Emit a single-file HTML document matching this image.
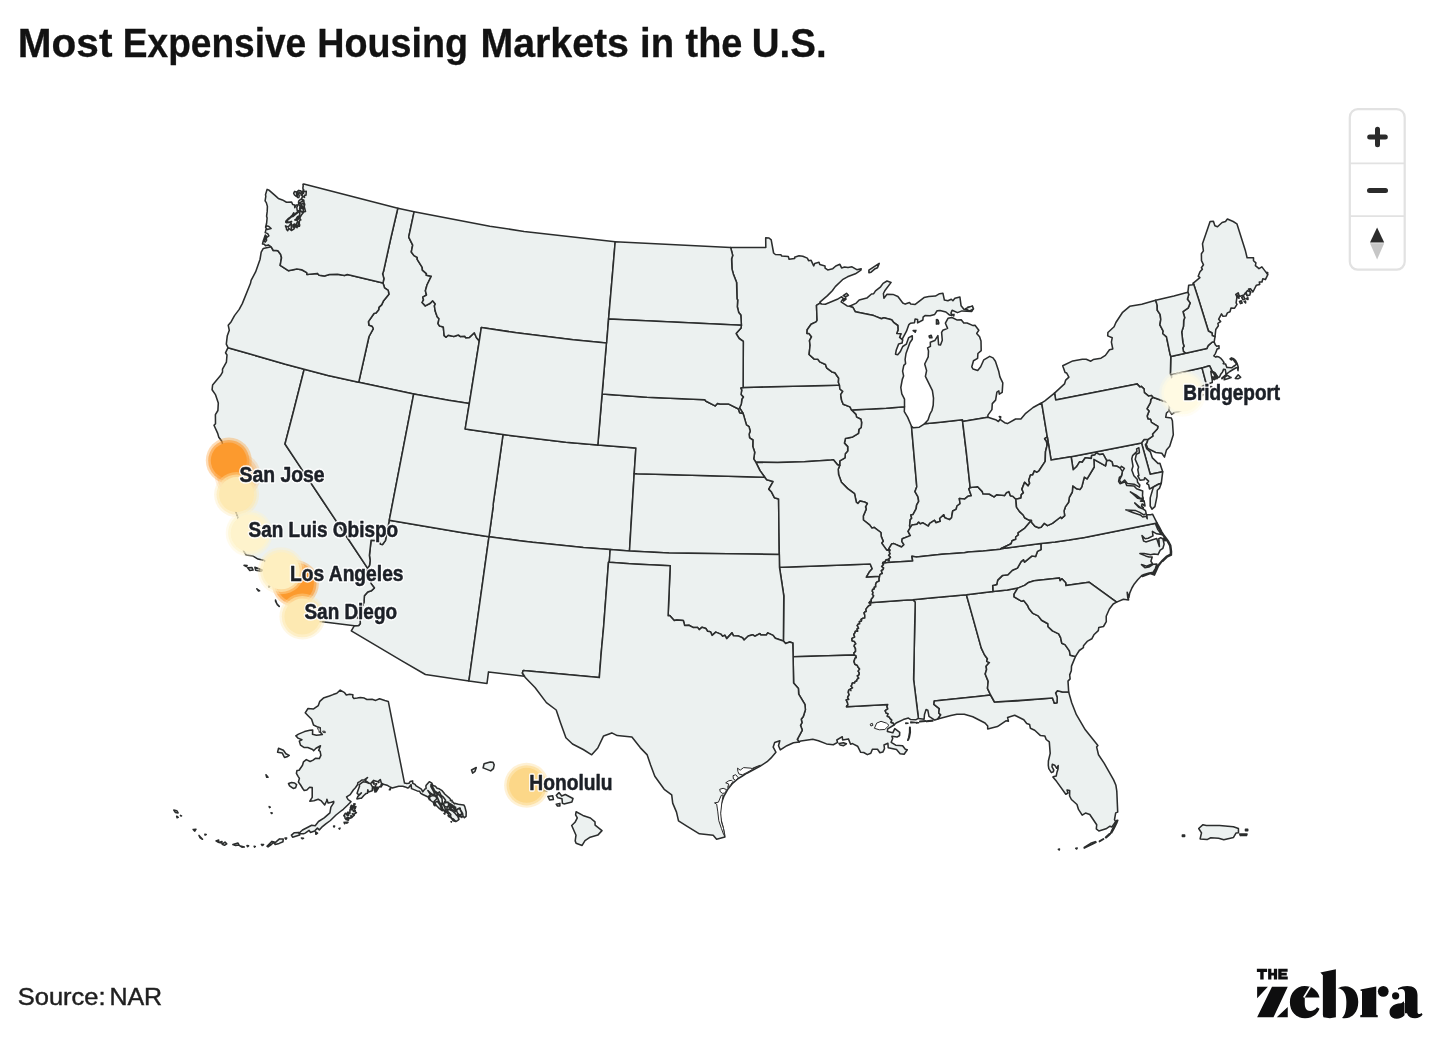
<!DOCTYPE html>
<html><head><meta charset="utf-8"><title>Most Expensive Housing Markets in the U.S.</title>
<style>
html,body{margin:0;padding:0;background:#fff;}
body{will-change:transform;width:1440px;height:1043px;position:relative;overflow:hidden;font-family:"Liberation Sans",sans-serif;color:#111;}
#map{position:absolute;left:0;top:0;width:1440px;height:1043px;filter:blur(0.45px);}
#map .st path{fill:#ecf1f0;stroke:#2b2d2d;stroke-width:1.55;stroke-linejoin:round;}
#map .wt path{fill:#fff;stroke:#2a2a2a;stroke-width:1;stroke-linejoin:round;}
#map .lb text{font-family:"Liberation Sans",sans-serif;font-weight:700;font-size:22.2px;fill:#1c2027;stroke:#1c2027;stroke-width:0.55px;stroke-linejoin:round;}
#map .lb text.h{fill:#fff;stroke:#fff;stroke-width:3.4px;stroke-opacity:.9;}
</style></head><body>
<svg id="map" viewBox="0 0 1440 1043">
<g class="st">
<path d="M930.2,598.0L966.4,594.8L972.5,616.4L981.3,648.1L984.6,655.0L987.4,658.8L986.7,661.4L989.4,662.6L986.1,666.3L986.6,669.5L985.2,674.0L988.2,681.4L987.5,688.3L990.6,695.0L980.0,696.3L934.3,700.9L933.9,704.3L939.3,708.7L938.8,713.0L940.7,714.9L937.8,719.0L934.8,720.1L929.0,716.4L927.8,710.2L926.1,709.6L924.5,714.5L924.1,719.2L918.4,718.4L913.6,679.5L914.6,630.5L915.2,602.2L912.8,599.7Z"/>
<path d="M489.0,536.7L468.9,681.0L425.4,674.5L401.9,660.9L351.3,630.9L354.4,625.7L358.7,625.5L360.3,623.5L360.1,618.6L357.3,617.9L357.8,608.3L362.7,605.5L364.0,601.9L364.4,595.8L367.7,591.9L371.3,590.8L374.4,588.0L371.1,583.6L369.6,576.4L367.0,571.6L367.7,568.4L369.6,565.2L370.1,560.4L369.4,555.3L371.1,540.2L378.7,540.7L380.5,544.2L382.5,544.5L385.4,540.6L389.3,520.2L459.9,532.3Z"/>
<path d="M782.4,567.3L870.2,564.0L872.2,568.8L869.3,572.1L866.4,577.1L879.6,576.3L879.1,578.7L879.2,581.1L877.6,581.7L876.3,582.7L875.6,584.7L875.8,586.7L874.3,587.2L874.3,589.1L872.6,589.6L872.3,591.2L873.1,592.6L872.4,594.3L873.7,595.7L873.0,597.3L871.3,599.3L871.2,602.0L869.9,601.5L869.2,602.8L870.7,603.4L870.6,605.0L868.8,605.7L867.5,607.1L866.0,609.1L866.2,611.6L865.0,611.9L864.1,612.8L864.8,615.3L864.8,617.9L862.8,618.3L861.1,619.5L861.6,620.3L861.3,621.2L859.4,621.4L859.7,623.8L858.0,624.3L857.2,625.6L858.1,626.9L858.6,628.4L857.1,629.0L857.7,631.3L855.4,631.2L855.0,632.7L853.8,634.5L854.7,637.1L852.0,638.4L852.1,640.7L854.5,641.6L855.9,643.9L854.6,644.6L854.2,646.1L855.5,648.6L855.6,651.4L854.0,652.8L854.2,655.0L802.3,656.5L793.1,656.7L792.8,643.1L789.7,642.0L785.6,643.4L783.4,641.0L783.8,595.8L779.5,567.3Z"/>
<path d="M245.7,352.8L261.2,357.2L285.4,364.3L304.2,369.3L293.2,412.5L285.0,444.0L304.0,472.6L322.4,500.3L337.3,522.6L348.2,539.0L367.7,568.4L367.0,571.6L369.6,576.4L371.1,583.6L374.4,588.0L371.3,590.8L367.7,591.9L364.4,595.8L364.0,601.9L362.7,605.5L357.8,608.3L357.3,617.9L360.1,618.6L360.3,623.5L358.7,625.5L354.4,625.7L326.2,622.3L303.2,619.5L301.4,615.6L302.5,610.4L302.3,603.9L300.4,598.8L295.3,591.3L288.5,583.7L286.5,584.9L283.6,583.2L284.6,580.8L282.3,574.9L277.2,574.8L269.7,569.0L269.2,565.7L264.4,560.6L258.0,559.1L253.1,556.1L246.2,555.0L243.5,550.8L246.1,544.1L245.2,542.6L247.3,537.9L243.0,532.9L244.1,527.8L242.2,527.0L240.1,521.7L238.1,520.2L237.9,517.2L233.1,504.9L230.4,500.9L231.9,492.7L233.2,493.8L235.9,489.4L234.4,484.3L230.8,483.9L227.5,478.7L226.8,475.1L227.9,472.2L226.8,467.6L228.7,461.1L232.3,462.1L233.4,452.6L231.6,453.1L230.0,457.5L225.9,457.4L222.4,452.7L223.4,446.7L221.8,441.2L218.8,437.2L217.7,433.4L214.0,425.3L215.5,423.7L215.4,414.7L217.9,410.5L218.3,403.1L215.6,394.9L212.1,389.7L212.6,385.0L220.5,375.6L222.5,372.2L222.5,369.1L226.4,362.2L227.0,355.0L225.5,352.8L228.0,347.7Z"/>
<path d="M524.4,437.3L565.9,442.2L597.8,445.1L635.9,447.9L634.2,473.6L629.5,551.0L610.2,549.5L583.3,547.5L532.5,542.3L521.4,540.9L489.0,536.7L493.1,506.9L493.2,504.0L496.3,482.4L503.0,434.6Z"/>
<path d="M1179.0,373.1L1202.0,367.7L1202.1,368.1L1206.0,382.8L1205.5,385.4L1203.7,385.4L1196.2,389.4L1186.4,391.3L1183.1,395.7L1178.9,397.9L1174.3,402.1L1172.3,399.5L1176.2,395.7L1174.4,393.9L1171.1,374.7Z"/>
<path d="M1148.1,439.3L1147.0,442.7L1145.4,444.8L1146.7,448.7L1150.3,451.8L1152.4,457.9L1158.0,463.4L1159.9,463.3L1162.7,471.8L1150.2,474.3L1141.5,442.9L1144.1,439.5Z"/>
<path d="M980.0,696.3L990.6,695.0L994.5,702.0L1016.6,701.0L1052.5,698.0L1054.4,703.3L1057.0,702.8L1057.2,697.5L1055.6,692.9L1057.4,690.7L1062.6,692.0L1068.7,692.1L1071.7,702.8L1076.4,714.7L1085.3,729.8L1097.9,745.4L1096.6,746.9L1098.5,754.8L1104.1,763.1L1113.6,779.9L1115.9,785.3L1116.8,791.1L1117.7,812.1L1115.7,812.9L1114.5,819.7L1115.6,821.6L1111.9,827.0L1110.0,826.2L1106.0,828.8L1098.9,831.0L1096.3,828.8L1096.7,824.8L1089.8,814.5L1085.5,813.1L1082.2,815.2L1078.5,809.4L1077.0,804.5L1071.4,799.5L1069.6,796.0L1069.7,790.5L1067.0,790.0L1068.0,793.0L1065.8,794.2L1056.7,781.6L1052.9,777.0L1054.0,776.4L1056.2,776.0L1056.9,772.6L1058.0,769.1L1058.2,765.5L1056.7,768.3L1054.7,765.2L1052.3,764.3L1052.0,766.9L1053.8,770.0L1053.3,771.8L1051.4,772.6L1048.8,768.6L1048.3,765.4L1048.4,761.0L1050.2,753.4L1049.3,741.9L1046.2,739.5L1044.8,735.9L1040.5,735.6L1034.7,730.2L1030.4,728.3L1029.6,724.5L1026.7,723.5L1023.8,719.7L1014.7,715.2L1007.6,717.4L1008.4,721.2L1005.9,720.8L997.4,726.6L987.7,728.9L987.7,726.0L985.0,723.0L972.8,716.7L964.3,714.3L956.9,714.2L950.9,715.4L937.8,719.0L940.7,714.9L938.8,713.0L939.3,708.7L933.9,704.3L934.3,700.9Z"/>
<path d="M1017.8,588.1L1014.1,594.1L1014.1,596.8L1021.8,601.3L1023.8,600.6L1027.8,605.8L1028.9,608.6L1032.9,613.4L1038.2,615.9L1041.6,620.3L1047.9,623.8L1048.1,626.7L1052.5,630.9L1058.7,633.9L1060.7,637.9L1061.8,643.3L1065.0,644.6L1069.4,650.9L1070.2,655.2L1075.4,656.6L1071.5,666.1L1071.3,670.7L1069.7,674.9L1070.1,678.9L1068.0,681.1L1068.7,692.1L1062.6,692.0L1057.4,690.7L1055.6,692.9L1057.2,697.5L1057.0,702.8L1054.4,703.3L1052.5,698.0L1024.4,700.0L994.5,702.0L990.6,695.0L987.5,688.3L988.2,681.4L985.2,674.0L986.6,669.5L986.1,666.3L989.4,662.6L986.7,661.4L987.4,658.8L984.6,655.0L981.3,648.1L972.5,616.4L966.4,594.8L992.9,591.6L1007.3,589.9Z"/>
<path d="M582.1,845.4L576.1,843.2L575.2,840.9L576.0,835.2L571.7,825.5L575.0,822.3L577.3,817.8L575.6,814.9L576.1,811.8L582.9,815.4L590.4,818.0L595.0,821.9L595.1,825.2L602.0,830.6L597.8,835.1L590.2,837.2L585.0,840.6ZM559.0,792.6L561.7,796.0L565.3,794.5L573.0,798.5L571.9,802.1L564.0,803.9L562.4,803.2L562.0,798.8L557.9,797.8L556.3,795.3ZM549.5,788.0L547.2,790.6L541.6,790.6L543.4,787.7ZM526.3,775.6L528.9,781.6L527.6,785.0L522.5,785.6L519.1,778.5L522.1,778.3ZM490.2,761.9L493.0,762.2L494.2,764.9L493.4,768.6L490.7,770.9L483.1,767.9L484.1,763.8ZM471.5,770.0L476.3,767.5L475.0,771.3L472.6,773.1ZM547.9,796.4L552.7,795.8L553.4,799.4L549.6,799.9ZM556.3,804.2L559.9,803.4L559.9,806.0L557.5,806.0Z"/>
<path d="M414.1,211.8L408.7,237.1L412.7,245.1L411.3,252.0L414.0,255.6L417.2,257.4L417.2,259.3L422.2,267.3L422.4,270.1L426.4,273.6L426.3,275.3L431.3,276.2L427.0,285.0L425.4,290.8L426.5,295.0L422.8,297.1L423.5,299.9L422.1,302.5L425.3,305.9L430.3,303.3L432.6,300.8L435.3,303.9L434.4,305.9L435.2,311.0L437.2,316.7L439.0,318.8L438.0,323.6L439.6,326.1L443.3,327.0L444.2,335.6L446.0,337.3L448.2,335.3L453.8,336.5L458.3,335.0L460.5,336.6L464.9,336.2L465.6,337.8L469.4,337.4L474.3,332.8L476.5,337.7L479.3,340.9L469.3,403.6L448.5,400.3L413.7,393.9L358.7,382.3L369.0,336.5L373.2,328.8L372.2,326.5L368.9,325.3L368.4,321.6L374.0,313.5L376.0,313.1L378.7,309.8L378.9,307.4L381.6,304.9L383.6,300.7L388.9,294.2L388.2,290.4L384.5,287.8L383.0,283.0L383.9,278.6L382.6,273.8L383.4,271.8L390.7,238.7L397.8,208.2Z"/>
<path d="M851.5,410.0L886.1,408.2L904.5,406.7L904.3,411.6L907.6,417.1L911.5,426.3L916.8,486.8L915.0,491.6L918.0,496.9L918.7,501.3L916.6,505.2L916.2,508.7L913.1,514.4L910.9,515.1L911.7,518.2L910.3,519.6L909.6,525.8L910.4,527.4L908.1,531.3L910.3,535.6L902.3,538.7L901.8,541.4L903.9,544.7L901.5,547.0L893.9,543.6L891.6,544.1L888.8,548.8L889.9,550.1L886.7,550.1L881.7,543.1L883.2,541.3L881.2,536.4L880.9,532.5L874.1,527.4L872.0,528.1L869.6,524.9L863.4,520.0L863.3,516.0L866.2,509.1L865.5,506.8L867.3,503.5L864.4,501.9L860.0,501.0L857.9,503.5L856.3,502.1L854.5,493.7L847.7,488.6L841.4,482.2L838.6,474.5L838.2,469.3L839.7,465.5L839.8,460.9L845.0,457.8L845.3,453.8L847.7,451.1L847.7,446.6L844.4,443.1L845.4,438.6L852.7,436.9L858.5,433.3L858.9,429.3L861.2,427.5L861.6,422.5L860.9,419.3L856.6,417.1L855.9,414.4Z"/>
<path d="M940.2,422.2L962.4,419.7L962.6,421.4L966.3,451.9L970.2,487.6L968.9,488.9L971.3,495.7L967.9,496.3L964.5,499.1L959.3,498.5L960.1,503.6L957.0,506.0L956.1,509.4L952.7,511.0L951.6,517.7L949.5,519.6L944.8,517.7L943.7,514.8L939.7,518.5L940.3,521.3L936.0,522.7L934.4,520.3L929.7,523.3L928.3,526.1L922.9,522.8L920.4,523.9L918.5,522.2L917.0,524.2L912.1,524.9L910.4,527.4L909.6,525.8L910.3,519.6L911.7,518.2L910.9,515.1L913.1,514.4L916.2,508.7L916.6,505.2L918.7,501.3L918.0,496.9L915.0,491.6L916.8,486.8L911.5,426.3L913.5,427.8L919.3,427.2L924.5,423.8Z"/>
<path d="M836.7,385.3L839.5,385.2L839.9,389.0L842.8,391.4L840.7,394.6L841.6,400.3L843.2,404.3L850.0,406.9L851.5,410.0L855.9,414.4L856.6,417.1L860.9,419.3L861.6,422.5L861.2,427.5L858.9,429.3L858.5,433.3L852.7,436.9L845.4,438.6L844.4,443.1L847.7,446.6L847.7,451.1L845.3,453.8L845.0,457.8L839.8,460.9L839.7,465.5L837.5,464.8L833.4,459.7L831.4,460.0L804.1,461.7L777.7,462.5L755.9,462.3L753.7,458.9L754.7,452.3L752.8,446.5L752.9,440.0L749.6,437.8L749.1,434.2L750.2,431.1L749.0,426.6L746.4,424.9L743.1,413.4L739.6,407.8L741.3,404.0L741.9,398.9L743.4,397.1L741.0,394.5L741.7,390.1L740.7,387.9L743.1,387.4Z"/>
<path d="M637.1,473.8L764.8,477.3L766.8,479.7L773.1,481.6L768.8,489.1L771.3,491.7L774.4,497.7L778.6,498.9L779.3,554.5L668.9,552.9L629.5,551.0L634.2,473.6Z"/>
<path d="M989.1,494.0L994.0,496.9L996.8,494.7L1004.5,495.6L1006.3,492.8L1008.9,491.6L1010.4,495.8L1012.8,496.2L1015.9,499.3L1016.5,507.1L1019.6,511.6L1023.2,515.0L1024.6,517.7L1028.9,520.1L1031.5,520.2L1024.9,528.1L1018.1,532.9L1018.4,534.9L1015.7,537.0L1015.8,539.2L1012.1,540.8L1011.1,543.7L1000.8,548.8L1000.6,549.3L983.3,551.1L968.2,552.1L964.3,552.8L941.9,554.2L916.5,557.1L911.9,556.3L912.7,560.9L887.5,562.6L885.0,563.1L885.2,561.3L885.9,559.7L887.7,559.4L889.0,560.7L888.7,558.9L890.4,557.3L888.6,555.3L889.9,553.7L889.1,551.8L889.9,550.1L888.8,548.8L891.6,544.1L893.9,543.6L901.5,547.0L903.9,544.7L901.8,541.4L902.3,538.7L910.3,535.6L908.1,531.3L910.4,527.4L912.1,524.9L917.0,524.2L918.5,522.2L920.4,523.9L922.9,522.8L928.3,526.1L929.7,523.3L934.4,520.3L936.0,522.7L940.3,521.3L939.7,518.5L943.7,514.8L944.8,517.7L949.5,519.6L951.6,517.7L952.7,511.0L956.1,509.4L957.0,506.0L960.1,503.6L959.3,498.5L964.5,499.1L967.9,496.3L971.3,495.7L968.9,488.9L970.2,487.6L977.7,486.7L982.3,491.6L982.9,493.8Z"/>
<path d="M802.3,656.5L854.2,655.0L856.0,655.8L856.3,657.8L855.2,657.9L854.8,659.0L854.0,661.6L854.9,664.2L857.1,665.2L858.2,667.3L859.6,669.0L858.2,671.1L859.3,672.9L859.1,674.8L857.3,675.9L858.8,678.2L857.1,679.3L856.8,680.9L855.2,681.4L854.6,683.1L852.4,683.0L851.9,684.8L851.1,686.1L852.6,687.9L850.3,689.0L850.9,690.6L850.0,689.5L848.7,690.1L848.3,692.5L849.2,694.8L847.6,697.2L848.8,699.5L847.5,699.4L846.2,699.9L847.4,702.3L848.0,704.9L847.0,705.6L846.5,706.8L887.7,704.5L887.0,706.6L887.8,708.9L885.2,710.7L886.1,713.0L888.1,713.7L887.3,716.2L889.2,716.9L890.0,718.4L891.8,720.1L891.1,722.5L893.3,722.9L894.0,725.0L887.7,728.9L887.4,731.5L892.8,732.8L894.8,728.6L899.7,732.3L899.6,735.5L897.0,737.1L891.9,736.2L892.7,738.5L891.2,742.3L895.7,745.2L902.6,745.7L905.3,749.3L907.3,749.7L904.1,754.3L900.1,753.7L896.5,749.5L888.2,747.7L887.9,743.3L884.0,745.0L884.5,748.6L882.8,752.1L879.9,752.8L877.5,749.2L872.4,749.3L870.8,753.3L867.4,754.6L863.7,752.5L860.7,752.3L857.6,746.2L852.5,743.6L850.6,744.2L848.4,738.9L842.6,739.9L842.3,736.7L836.8,740.0L837.6,742.4L833.3,744.8L826.5,743.9L818.4,740.7L812.8,739.3L800.9,740.9L799.3,741.9L797.3,739.4L802.3,730.2L800.5,725.3L802.0,722.7L801.2,719.2L803.3,716.5L805.4,709.8L804.9,704.4L798.7,694.1L798.4,688.5L793.6,683.0L793.1,656.7Z"/>
<path d="M1215.0,336.7L1212.3,335.6L1212.0,333.0L1208.4,331.0L1198.4,298.8L1193.3,283.1L1199.9,277.7L1198.2,276.2L1200.0,271.7L1202.4,269.1L1201.4,267.8L1203.5,264.8L1201.5,260.7L1201.4,253.8L1203.4,250.9L1202.5,243.8L1210.1,221.4L1213.4,221.3L1214.9,225.8L1217.5,226.7L1222.1,222.5L1225.5,221.5L1227.4,219.0L1233.2,221.5L1236.9,223.8L1245.5,251.1L1247.1,257.7L1253.5,257.7L1253.5,260.7L1255.9,262.9L1255.4,265.7L1259.0,268.7L1261.9,266.9L1267.8,274.6L1265.4,279.6L1262.8,278.8L1262.0,282.0L1259.3,282.1L1259.7,284.4L1256.4,285.2L1252.9,292.0L1250.5,288.7L1248.6,289.0L1250.7,292.6L1247.2,295.7L1245.3,292.9L1243.9,295.1L1239.4,296.4L1238.2,292.8L1235.8,294.4L1237.0,296.8L1236.1,302.9L1237.0,304.3L1234.6,308.2L1231.0,308.0L1230.0,311.7L1227.4,312.9L1225.9,316.1L1223.0,316.3L1221.5,313.8L1218.7,319.2L1220.6,321.6L1217.9,323.4L1218.4,325.8L1215.8,329.5Z"/>
<path d="M1071.1,456.7L1141.5,442.9L1150.2,474.3L1162.7,471.8L1161.3,483.2L1158.4,484.3L1153.4,487.0L1149.5,489.0L1148.7,484.8L1146.7,483.5L1148.6,481.2L1144.7,477.7L1144.1,479.7L1140.0,480.2L1137.7,475.9L1138.9,475.6L1137.8,469.7L1138.6,467.1L1135.2,459.4L1136.3,454.3L1139.4,452.8L1138.9,447.8L1136.6,448.9L1137.0,451.4L1132.6,455.6L1131.8,458.8L1133.0,466.2L1131.8,470.1L1133.9,475.7L1137.2,479.2L1137.6,482.3L1139.8,485.0L1139.4,487.2L1134.1,484.2L1127.3,483.5L1124.6,480.1L1121.4,483.0L1119.4,480.2L1121.5,475.8L1122.4,471.4L1124.4,468.3L1121.5,466.3L1120.2,468.1L1117.2,466.3L1112.9,465.8L1112.2,462.1L1109.7,460.4L1106.7,460.6L1103.1,454.0L1099.8,454.6L1096.1,452.8L1094.7,455.1L1091.6,455.6L1091.3,458.5L1085.3,457.7L1082.2,462.2L1079.6,461.8L1076.5,466.8L1073.2,469.8Z"/>
<path d="M1212.3,342.0L1214.2,341.9L1215.3,344.8L1216.7,346.3L1219.0,345.7L1219.0,348.4L1217.1,349.1L1216.3,351.2L1215.4,353.6L1213.8,355.9L1215.8,357.2L1216.9,356.4L1219.0,357.1L1220.5,358.1L1222.7,360.6L1224.0,362.4L1223.2,363.7L1225.6,364.1L1226.9,367.5L1227.7,367.5L1231.7,367.8L1233.3,366.5L1235.0,365.5L1236.3,364.4L1235.9,363.1L1234.5,361.4L1233.4,359.8L1231.9,359.2L1231.3,359.9L1230.0,358.9L1231.5,357.9L1233.7,358.7L1235.6,360.5L1237.2,363.6L1238.3,367.3L1238.0,370.6L1237.5,367.5L1235.7,368.0L1232.3,370.0L1229.8,371.5L1227.0,373.6L1226.0,374.7L1225.8,372.6L1225.3,369.5L1223.5,369.2L1223.1,370.7L1222.4,372.2L1220.9,373.9L1219.5,377.0L1217.9,377.5L1215.3,373.4L1214.6,372.7L1212.2,371.4L1209.6,365.8L1207.0,366.6L1202.1,368.1L1202.0,367.7L1179.0,373.1L1171.1,374.7L1170.4,373.9L1170.8,356.4L1185.6,353.2L1206.8,348.6L1208.1,345.7ZM1224.2,379.7L1225.0,376.8L1227.5,375.3L1229.9,376.8L1231.1,377.5L1227.5,378.8ZM1235.3,378.5L1236.0,377.5L1238.2,374.8L1240.7,377.3L1238.3,378.7ZM1225.5,375.1L1221.8,378.2L1222.0,378.7L1225.3,375.9Z"/>
<path d="M987.9,417.2L962.6,421.4L962.4,419.7L940.2,422.2L924.5,423.8L928.0,420.0L930.0,414.0L932.0,410.3L933.2,405.2L933.5,398.1L932.4,390.6L925.4,376.4L926.6,370.6L924.7,364.0L928.2,356.8L928.5,351.0L927.6,347.9L930.4,346.4L930.3,342.2L934.8,340.6L937.9,335.6L938.6,344.8L940.5,345.0L942.3,340.2L941.6,332.4L942.8,330.3L947.6,328.4L945.4,323.2L948.0,318.3L952.0,317.5L956.8,319.9L961.2,319.8L963.8,323.1L967.1,323.0L973.1,325.6L975.0,325.2L978.8,330.2L976.7,333.4L979.6,336.8L981.0,341.0L981.2,350.6L977.9,353.5L977.6,358.4L973.5,360.7L971.8,366.8L973.0,369.0L977.7,370.5L980.7,366.8L983.8,359.8L989.7,356.4L993.0,357.9L995.4,361.3L998.8,371.6L999.9,376.8L1002.8,382.9L1002.2,392.4L999.3,394.2L998.8,390.9L996.9,392.1L995.6,400.1L992.3,403.6L991.9,409.6L987.9,415.1ZM938.0,320.1L938.7,323.1L936.4,323.9L936.9,319.5ZM902.6,339.9L899.6,337.5L900.9,333.8L896.7,333.6L898.0,329.9L897.8,325.5L893.9,322.7L891.6,319.7L883.8,317.8L881.5,318.8L873.7,315.6L855.2,311.7L853.0,307.5L849.6,306.2L856.3,303.1L859.2,299.9L866.8,298.1L871.5,294.0L873.7,293.7L875.5,290.9L880.6,286.8L883.1,283.4L887.0,281.0L891.1,282.4L884.8,290.8L883.4,293.5L883.9,298.2L887.0,294.3L893.0,294.4L897.9,296.5L902.8,303.0L905.2,304.1L909.5,302.6L910.7,304.0L915.2,304.4L924.0,297.6L928.8,296.6L935.4,296.1L939.6,293.7L942.9,293.2L944.4,300.1L947.9,300.7L951.3,299.2L952.9,300.7L954.9,298.3L959.9,297.0L961.1,305.8L963.9,309.3L967.5,309.8L967.6,307.3L970.9,306.8L973.1,309.2L971.8,311.4L962.0,310.9L957.5,312.6L952.1,310.2L951.0,313.1L951.9,315.4L949.6,315.1L945.9,312.0L940.0,310.6L937.1,310.8L934.7,314.4L930.1,315.8L925.0,315.6L923.1,317.2L922.9,320.0L917.6,322.9L917.6,319.6L915.1,319.1L914.5,322.7L910.4,323.2L908.7,324.9L906.5,331.2L902.1,339.3ZM875.2,268.7L871.1,272.2L868.9,272.7L868.9,270.1L879.2,263.4L877.5,267.7Z"/>
<path d="M821.4,304.1L820.0,303.1L816.5,305.3L817.1,320.3L816.1,321.9L811.1,324.2L807.2,329.8L807.0,333.4L809.1,333.6L811.5,336.8L809.5,340.7L810.1,345.1L809.1,354.5L814.0,358.9L817.8,359.2L819.8,361.9L825.5,364.5L826.6,367.8L831.9,371.9L834.9,372.8L838.7,378.2L838.4,382.3L839.5,385.2L836.7,385.3L743.1,387.4L743.3,341.4L739.2,338.5L736.1,333.6L741.0,328.1L741.4,325.2L740.8,315.0L738.7,312.4L737.3,306.8L737.7,300.0L737.0,298.8L736.6,282.6L733.3,273.9L732.0,269.1L731.6,258.8L732.7,255.4L730.6,247.4L765.8,247.4L765.7,237.8L769.0,238.0L771.2,239.9L773.6,253.0L775.4,254.5L781.0,254.8L781.7,256.0L788.3,256.5L789.1,259.2L794.7,258.4L794.6,257.3L799.0,255.8L802.8,256.2L807.3,258.1L808.6,260.7L811.1,260.3L813.7,265.9L814.7,263.5L819.0,262.3L819.8,264.6L825.0,266.0L825.1,268.2L827.7,269.9L832.8,268.7L835.8,266.0L839.9,264.3L841.6,267.9L844.5,267.0L848.0,267.6L852.0,266.8L856.8,269.7L861.2,268.8L860.9,270.2L855.4,273.8L847.5,276.8L842.5,279.7L835.3,286.6L832.3,290.8L827.5,295.6L819.9,302.1Z"/>
<path d="M907.3,600.1L912.8,599.7L915.2,602.2L914.6,630.5L913.6,679.5L918.4,718.4L916.1,719.7L910.7,719.6L908.4,718.1L903.3,719.6L896.1,723.0L894.0,725.0L893.3,722.9L891.1,722.5L891.8,720.1L890.0,718.4L889.2,716.9L887.3,716.2L888.1,713.7L886.1,713.0L885.2,710.7L887.8,708.9L887.0,706.6L887.7,704.5L846.5,706.8L847.0,705.6L848.0,704.9L847.4,702.3L846.2,699.9L847.5,699.4L848.8,699.5L847.6,697.2L849.2,694.8L848.3,692.5L848.7,690.1L850.0,689.5L850.9,690.6L850.3,689.0L852.6,687.9L851.1,686.1L851.9,684.8L852.4,683.0L854.6,683.1L855.2,681.4L856.8,680.9L857.1,679.3L858.8,678.2L857.3,675.9L859.1,674.8L859.3,672.9L858.2,671.1L859.6,669.0L858.2,667.3L857.1,665.2L854.9,664.2L854.0,661.6L854.8,659.0L855.2,657.9L856.3,657.8L856.0,655.8L854.2,655.0L854.0,652.8L855.6,651.4L855.5,648.6L854.2,646.1L854.6,644.6L855.9,643.9L854.5,641.6L852.1,640.7L852.0,638.4L854.7,637.1L853.8,634.5L855.0,632.7L855.4,631.2L857.7,631.3L857.1,629.0L858.6,628.4L858.1,626.9L857.2,625.6L858.0,624.3L859.7,623.8L859.4,621.4L861.3,621.2L861.6,620.3L861.1,619.5L862.8,618.3L864.8,617.9L864.8,615.3L864.1,612.8L865.0,611.9L866.2,611.6L866.0,609.1L867.5,607.1L868.8,605.7L870.6,605.0L870.7,603.4L869.2,602.8Z"/>
<path d="M831.4,460.0L833.4,459.7L837.5,464.8L839.7,465.5L838.2,469.3L838.6,474.5L841.4,482.2L847.7,488.6L854.5,493.7L856.3,502.1L857.9,503.5L860.0,501.0L864.4,501.9L867.3,503.5L865.5,506.8L866.2,509.1L863.3,516.0L863.4,520.0L869.6,524.9L872.0,528.1L874.1,527.4L880.9,532.5L881.2,536.4L883.2,541.3L881.7,543.1L886.7,550.1L889.9,550.1L889.1,551.8L889.9,553.7L888.6,555.3L890.4,557.3L888.7,558.9L889.0,560.7L887.7,559.4L885.9,559.7L885.2,561.3L885.0,563.1L884.3,561.9L883.7,563.1L883.1,562.4L882.6,563.2L883.5,564.7L881.7,566.5L883.6,567.9L883.1,569.5L881.4,570.7L882.3,573.5L880.1,574.4L879.6,576.3L866.4,577.1L869.3,572.1L872.2,568.8L870.2,564.0L782.4,567.3L779.5,567.3L779.3,554.5L778.6,498.9L774.4,497.7L771.3,491.7L768.8,489.1L773.1,481.6L766.8,479.7L764.8,477.3L760.0,470.6L755.9,462.3L777.7,462.5L804.1,461.7Z"/>
<path d="M615.2,241.7L612.8,270.4L608.6,318.9L606.7,343.0L606.4,343.0L573.1,339.7L516.4,332.8L481.3,327.6L479.3,340.9L476.5,337.7L474.3,332.8L469.4,337.4L465.6,337.8L464.9,336.2L460.5,336.6L458.3,335.0L453.8,336.5L448.2,335.3L446.0,337.3L444.2,335.6L443.3,327.0L439.6,326.1L438.0,323.6L439.0,318.8L437.2,316.7L435.2,311.0L434.4,305.9L435.3,303.9L432.6,300.8L430.3,303.3L425.3,305.9L422.1,302.5L423.5,299.9L422.8,297.1L426.5,295.0L425.4,290.8L427.0,285.0L431.3,276.2L426.3,275.3L426.4,273.6L422.4,270.1L422.2,267.3L417.2,259.3L417.2,257.4L414.0,255.6L411.3,252.0L412.7,245.1L408.7,237.1L414.1,211.8L489.8,226.2L524.1,231.4Z"/>
<path d="M615.6,395.0L647.0,397.3L705.0,399.7L705.6,401.0L715.1,405.9L717.4,403.4L720.0,404.0L728.8,404.1L738.5,409.0L739.7,412.7L743.1,413.4L746.4,424.9L749.0,426.6L750.2,431.1L749.1,434.2L749.6,437.8L752.9,440.0L752.8,446.5L754.7,452.3L753.7,458.9L755.9,462.3L760.0,470.6L764.8,477.3L637.1,473.8L634.2,473.6L635.9,447.9L597.8,445.1L602.1,393.9Z"/>
<path d="M358.7,382.3L413.7,393.9L389.3,520.2L385.4,540.6L382.5,544.5L380.5,544.2L378.7,540.7L371.1,540.2L369.4,555.3L370.1,560.4L369.6,565.2L367.7,568.4L348.2,539.0L337.3,522.6L322.4,500.3L304.0,472.6L285.0,444.0L293.2,412.5L304.2,369.3L328.0,375.4Z"/>
<path d="M1193.3,283.1L1198.4,298.8L1208.4,331.0L1212.0,333.0L1212.3,335.6L1215.0,336.7L1214.2,341.9L1212.3,342.0L1208.1,345.7L1206.8,348.6L1185.6,353.2L1183.5,351.7L1182.8,347.9L1184.0,346.2L1182.9,342.7L1181.7,331.9L1183.5,326.2L1183.7,320.2L1184.7,317.8L1183.0,311.7L1188.3,307.8L1190.1,302.9L1187.4,299.2L1188.7,294.6L1187.9,292.2L1188.7,285.2L1192.8,284.8Z"/>
<path d="M1162.6,400.8L1169.7,402.9L1169.2,410.7L1166.5,413.0L1165.7,417.3L1171.3,418.0L1172.4,420.8L1173.3,434.8L1169.7,446.2L1166.5,449.9L1164.5,457.1L1161.8,453.3L1155.8,452.5L1147.8,448.5L1146.5,444.9L1146.3,444.3L1147.0,442.7L1148.1,439.3L1152.8,436.1L1152.6,434.1L1157.5,428.7L1157.9,426.3L1151.4,422.4L1150.5,419.3L1148.0,419.0L1147.1,416.1L1149.0,411.1L1146.9,408.8L1150.4,402.6L1150.8,399.6L1152.8,397.2Z"/>
<path d="M521.4,540.9L532.5,542.3L583.3,547.5L610.2,549.5L609.3,562.3L608.5,562.2L603.7,626.1L601.3,652.0L599.3,677.6L523.2,670.5L522.4,673.0L524.5,676.2L488.5,671.9L487.0,683.4L468.9,681.0L489.0,536.7Z"/>
<path d="M1155.7,300.3L1157.2,305.4L1157.3,310.3L1160.1,314.4L1160.8,319.3L1159.9,324.8L1163.2,331.2L1162.7,333.5L1166.5,336.9L1170.1,354.3L1170.8,356.4L1170.4,373.9L1171.1,374.7L1174.4,393.9L1176.2,395.7L1172.3,399.5L1174.3,402.1L1182.8,402.2L1184.0,400.3L1190.8,398.6L1194.1,396.9L1198.7,391.5L1199.9,394.3L1203.1,394.8L1197.3,400.2L1184.3,409.2L1178.5,411.8L1174.4,412.5L1171.8,414.4L1169.2,410.7L1169.7,402.9L1162.6,400.8L1152.8,397.2L1151.6,395.6L1148.7,396.1L1144.4,392.6L1144.0,388.8L1141.2,386.4L1139.8,386.9L1137.0,383.9L1055.7,399.9L1054.6,393.5L1054.5,393.1L1064.5,383.9L1065.7,380.1L1068.9,377.1L1066.7,373.1L1065.1,372.5L1062.7,365.8L1072.8,360.9L1082.3,359.3L1086.2,359.3L1090.8,361.2L1093.2,359.6L1101.0,358.2L1105.4,355.4L1109.5,349.8L1112.8,349.0L1111.4,342.1L1112.2,337.8L1107.7,335.9L1107.9,332.5L1114.1,326.8L1115.9,322.5L1122.6,312.3L1129.7,306.3L1141.8,304.2Z"/>
<path d="M1055.1,541.9L1068.9,540.1L1084.6,537.6L1157.1,523.1L1155.8,524.8L1157.9,529.6L1161.5,534.6L1156.7,533.8L1152.4,531.3L1153.0,535.9L1148.2,538.2L1145.2,538.8L1142.0,535.6L1143.6,541.0L1145.8,541.9L1151.8,540.1L1156.7,538.6L1159.4,546.4L1158.8,538.6L1160.7,537.7L1163.0,539.0L1164.1,544.1L1162.9,548.3L1160.2,550.2L1158.0,554.6L1154.1,554.1L1150.6,554.8L1144.1,553.5L1139.9,553.6L1145.6,555.9L1149.0,557.0L1152.2,557.1L1150.9,561.3L1152.5,563.6L1146.6,566.2L1141.5,564.6L1144.9,567.8L1148.9,567.0L1153.6,564.2L1156.8,564.1L1155.5,568.3L1153.2,572.2L1150.7,572.7L1149.1,573.0L1144.1,574.5L1141.8,575.5L1137.7,579.8L1134.3,583.9L1131.9,588.0L1129.7,593.1L1128.9,597.7L1127.2,592.3L1127.8,597.9L1128.6,599.9L1123.4,599.3L1116.6,602.1L1089.0,582.2L1065.9,585.6L1065.7,582.7L1061.9,578.8L1060.0,580.7L1059.5,578.1L1034.1,580.7L1028.6,582.4L1024.6,585.4L1017.8,588.1L1007.3,589.9L992.9,591.6L992.7,585.5L996.7,584.5L997.7,580.1L1002.3,575.6L1007.9,574.8L1012.4,570.2L1017.4,568.1L1021.1,561.7L1023.6,559.7L1024.5,562.1L1031.8,556.1L1035.6,556.5L1037.4,551.4L1041.0,549.6L1040.9,543.4ZM1157.1,523.2L1159.4,527.2L1162.0,532.1L1163.5,534.4L1165.9,537.6L1168.3,541.0L1170.7,545.3L1171.5,551.7L1171.4,555.1L1167.0,557.1L1162.9,561.2L1162.1,561.3L1158.3,566.4L1154.4,575.1L1150.9,573.7L1153.5,573.7L1157.6,565.7L1162.3,560.2L1166.7,556.1L1170.4,554.3L1170.5,551.1L1169.7,545.5L1167.3,541.3L1164.9,537.8L1162.5,534.7L1160.8,531.6L1158.3,526.9L1156.5,523.3ZM1163.5,538.1L1164.7,538.1L1166.0,540.2L1164.9,540.7ZM1150.3,573.6L1144.4,575.8L1142.4,576.5L1144.2,575.1Z"/>
<path d="M730.6,247.4L732.7,255.4L731.6,258.8L732.0,269.1L733.3,273.9L736.6,282.6L737.0,298.8L737.7,300.0L737.3,306.8L738.7,312.4L740.8,315.0L741.4,325.2L608.6,318.9L612.8,270.4L615.2,241.7Z"/>
<path d="M1041.7,402.8L1047.3,436.9L1044.7,438.7L1046.5,441.3L1047.1,445.2L1045.5,451.7L1045.2,461.4L1039.0,470.8L1036.7,472.3L1034.4,470.9L1032.7,474.9L1030.5,475.1L1028.8,480.3L1029.7,483.2L1028.1,485.9L1024.6,482.4L1021.9,489.1L1023.4,492.8L1021.3,494.6L1021.0,498.0L1015.9,499.3L1012.8,496.2L1010.4,495.8L1008.9,491.6L1006.3,492.8L1004.5,495.6L996.8,494.7L994.0,496.9L989.1,494.0L982.9,493.8L982.3,491.6L977.7,486.7L970.2,487.6L966.3,451.9L962.6,421.4L987.9,417.2L995.6,419.7L998.4,421.5L1000.0,419.3L1004.6,422.7L1007.4,423.6L1015.6,419.0L1020.9,418.9L1025.7,413.3L1033.1,407.5Z"/>
<path d="M668.9,552.9L779.3,554.5L779.5,567.3L783.8,595.8L783.4,641.0L775.3,638.3L773.1,635.4L767.7,632.9L766.3,635.1L760.9,635.0L759.8,633.6L754.8,636.2L752.8,634.8L748.3,636.0L744.1,640.0L742.5,637.7L738.1,635.9L733.5,635.8L732.0,632.9L726.7,638.6L725.0,635.3L722.6,636.3L720.7,634.1L715.8,632.1L712.1,635.4L710.5,631.8L707.6,631.3L705.9,628.5L701.9,627.3L699.2,629.6L697.5,627.4L693.4,627.6L688.9,625.2L684.6,625.4L683.3,620.4L676.7,619.9L674.2,620.6L669.7,615.5L668.1,615.7L670.2,565.8L633.4,563.9L609.3,562.3L610.2,549.5L629.5,551.0Z"/>
<path d="M276.2,250.6L277.9,250.8L280.7,254.4L281.5,257.8L280.2,265.4L288.3,270.7L296.9,268.9L301.7,269.8L306.8,272.6L306.9,274.4L317.3,273.4L319.2,275.2L324.5,275.9L329.4,274.6L337.5,274.3L344.5,275.5L347.3,274.5L383.0,283.0L384.5,287.8L388.2,290.4L388.9,294.2L383.6,300.7L381.6,304.9L378.9,307.4L378.7,309.8L376.0,313.1L374.0,313.5L368.4,321.6L368.9,325.3L372.2,326.5L373.2,328.8L369.0,336.5L358.7,382.3L328.0,375.4L304.2,369.3L285.4,364.3L261.2,357.2L245.7,352.8L228.0,347.7L226.3,344.1L227.3,335.7L229.3,330.3L228.2,325.2L231.2,321.7L234.5,315.6L239.2,309.4L242.3,303.6L250.5,283.3L251.1,280.4L255.6,271.9L260.0,259.5L261.2,252.2L263.3,248.4L271.2,246.8L273.3,250.5Z"/>
<path d="M1054.6,393.5L1055.7,399.9L1137.0,383.9L1139.8,386.9L1141.2,386.4L1144.0,388.8L1144.4,392.6L1148.7,396.1L1151.6,395.6L1152.8,397.2L1150.8,399.6L1150.4,402.6L1146.9,408.8L1149.0,411.1L1147.1,416.1L1148.0,419.0L1150.5,419.3L1151.4,422.4L1157.9,426.3L1157.5,428.7L1152.6,434.1L1152.8,436.1L1148.1,439.3L1144.1,439.5L1141.5,442.9L1071.1,456.7L1051.1,460.1L1047.3,436.9L1041.7,402.8L1044.9,400.8L1054.5,393.1Z"/>
<path d="M1202.1,368.1L1206.0,382.8L1205.5,385.4L1210.0,383.2L1212.2,382.6L1212.3,380.8L1211.7,377.2L1211.3,374.6L1210.8,371.3L1213.1,372.8L1214.1,374.4L1214.7,372.9L1215.3,373.4L1214.6,372.7L1212.2,371.4L1209.6,365.8L1207.0,366.6ZM1215.3,373.4L1215.6,374.8L1216.9,378.7L1217.9,377.5ZM1214.6,374.8L1214.0,378.4L1214.0,379.8L1215.8,378.5L1215.4,375.4ZM1212.6,376.9L1212.9,379.3L1213.5,378.6ZM1210.8,386.5L1211.9,386.7L1211.7,388.4Z"/>
<path d="M1024.6,585.4L1028.6,582.4L1034.1,580.7L1059.5,578.1L1060.0,580.7L1061.9,578.8L1065.7,582.7L1065.9,585.6L1089.0,582.2L1116.6,602.1L1113.2,604.0L1109.4,609.0L1106.2,616.3L1106.3,621.7L1103.5,626.5L1098.8,627.4L1098.3,630.6L1093.9,634.8L1091.8,638.8L1087.6,641.1L1083.5,645.8L1083.4,647.7L1079.3,650.5L1075.4,656.6L1070.2,655.2L1069.4,650.9L1065.0,644.6L1061.8,643.3L1060.7,637.9L1058.7,633.9L1052.5,630.9L1048.1,626.7L1047.9,623.8L1041.6,620.3L1038.2,615.9L1032.9,613.4L1028.9,608.6L1027.8,605.8L1023.8,600.6L1021.8,601.3L1014.1,596.8L1014.1,594.1L1017.8,588.1Z"/>
<path d="M608.6,318.9L741.4,325.2L741.0,328.1L736.1,333.6L739.2,338.5L743.3,341.4L743.1,387.4L740.7,387.9L741.7,390.1L741.0,394.5L743.4,397.1L741.9,398.9L741.3,404.0L739.6,407.8L743.1,413.4L739.7,412.7L738.5,409.0L728.8,404.1L720.0,404.0L717.4,403.4L715.1,405.9L705.6,401.0L705.0,399.7L647.0,397.3L615.6,395.0L602.1,393.9L606.4,343.0L606.7,343.0Z"/>
<path d="M912.7,560.9L911.9,556.3L916.5,557.1L941.9,554.2L964.3,552.8L968.2,552.1L983.3,551.1L1000.6,549.3L1000.8,548.8L1040.9,543.4L1041.0,549.6L1037.4,551.4L1035.6,556.5L1031.8,556.1L1024.5,562.1L1023.6,559.7L1021.1,561.7L1017.4,568.1L1012.4,570.2L1007.9,574.8L1002.3,575.6L997.7,580.1L996.7,584.5L992.7,585.5L992.9,591.6L966.4,594.8L930.2,598.0L912.8,599.7L907.3,600.1L869.2,602.8L869.9,601.5L871.2,602.0L871.3,599.3L873.0,597.3L873.7,595.7L872.4,594.3L873.1,592.6L872.3,591.2L872.6,589.6L874.3,589.1L874.3,587.2L875.8,586.7L875.6,584.7L876.3,582.7L877.6,581.7L879.2,581.1L879.1,578.7L879.6,576.3L880.1,574.4L882.3,573.5L881.4,570.7L883.1,569.5L883.6,567.9L881.7,566.5L883.5,564.7L882.6,563.2L883.1,562.4L883.7,563.1L884.3,561.9L885.0,563.1L887.5,562.6Z"/>
<path d="M633.4,563.9L670.2,565.8L668.1,615.7L669.7,615.5L674.2,620.6L676.7,619.9L683.3,620.4L684.6,625.4L688.9,625.2L693.4,627.6L697.5,627.4L699.2,629.6L701.9,627.3L705.9,628.5L707.6,631.3L710.5,631.8L712.1,635.4L715.8,632.1L720.7,634.1L722.6,636.3L725.0,635.3L726.7,638.6L732.0,632.9L733.5,635.8L738.1,635.9L742.5,637.7L744.1,640.0L748.3,636.0L752.8,634.8L754.8,636.2L759.8,633.6L760.9,635.0L766.3,635.1L767.7,632.9L773.1,635.4L775.3,638.3L783.4,641.0L785.6,643.4L789.7,642.0L792.8,643.1L793.1,656.7L793.6,683.0L798.4,688.5L798.7,694.1L804.9,704.4L805.4,709.8L803.3,716.5L801.2,719.2L802.0,722.7L800.5,725.3L802.3,730.2L797.3,739.4L799.3,741.9L793.5,742.7L786.9,745.7L780.3,749.9L778.5,745.8L779.8,740.7L774.7,742.5L773.2,747.1L775.9,752.2L771.1,757.9L767.1,761.7L759.9,766.4L752.5,770.2L746.9,773.2L742.4,776.0L737.4,779.1L732.2,783.8L727.6,789.6L723.7,796.7L720.6,805.6L719.8,815.7L722.6,825.9L724.4,834.2L724.9,837.0L716.6,839.2L713.2,835.3L699.4,833.8L686.4,825.8L678.5,820.8L676.5,812.1L672.7,803.1L671.7,794.9L664.2,789.3L654.8,776.2L650.6,765.0L647.2,754.9L640.2,747.6L631.9,737.0L617.2,735.6L611.8,732.9L603.6,735.9L597.8,748.0L591.7,754.8L583.2,749.5L572.5,744.0L565.9,737.8L560.4,722.4L556.2,710.0L546.4,702.6L535.0,687.5L525.0,677.2L524.5,676.2L522.4,673.0L523.2,670.5L599.3,677.6L601.3,652.0L603.7,626.1L608.5,562.2L609.3,562.3Z"/>
<path d="M448.5,400.3L469.3,403.6L465.2,429.0L503.0,434.6L496.3,482.4L493.2,504.0L493.1,506.9L489.0,536.7L459.9,532.3L389.3,520.2L413.7,393.9Z"/>
<path d="M1187.9,292.2L1188.7,294.6L1187.4,299.2L1190.1,302.9L1188.3,307.8L1183.0,311.7L1184.7,317.8L1183.7,320.2L1183.5,326.2L1181.7,331.9L1182.9,342.7L1184.0,346.2L1182.8,347.9L1183.5,351.7L1185.6,353.2L1170.8,356.4L1170.1,354.3L1166.5,336.9L1162.7,333.5L1163.2,331.2L1159.9,324.8L1160.8,319.3L1160.1,314.4L1157.3,310.3L1157.2,305.4L1155.7,300.3L1173.9,296.1Z"/>
<path d="M1158.4,484.3L1161.3,483.2L1159.6,488.1L1157.3,490.2L1157.0,496.3L1154.9,506.6L1152.0,509.2L1150.2,506.0L1150.2,497.9L1153.4,487.0ZM1093.9,459.3L1105.5,465.9L1106.7,460.6L1109.7,460.4L1112.2,462.1L1112.9,465.8L1117.2,466.3L1120.2,468.1L1122.4,471.4L1121.5,475.8L1119.4,477.4L1118.6,481.3L1120.0,483.7L1125.1,481.8L1126.8,485.6L1134.0,485.9L1136.6,488.7L1142.7,491.0L1142.5,496.0L1143.3,498.2L1139.8,497.9L1136.2,495.2L1130.4,491.9L1132.9,494.0L1137.8,498.3L1143.2,499.5L1140.5,501.2L1144.1,500.9L1145.0,506.0L1142.1,504.0L1141.5,506.2L1143.3,507.7L1140.9,508.2L1134.7,502.9L1138.7,507.3L1143.2,509.0L1145.5,510.6L1146.2,513.6L1143.8,514.9L1139.7,512.4L1135.7,510.6L1125.9,509.9L1132.6,512.5L1140.3,514.9L1142.8,517.0L1146.1,516.3L1147.2,518.7L1146.8,514.8L1150.6,514.8L1152.5,514.2L1153.5,516.0L1155.3,519.6L1157.1,523.1L1084.6,537.6L1068.9,540.1L1055.1,541.9L1040.9,543.4L1000.8,548.8L1011.1,543.7L1012.1,540.8L1015.8,539.2L1015.7,537.0L1018.4,534.9L1018.1,532.9L1024.9,528.1L1031.5,520.2L1031.5,522.3L1034.9,526.2L1038.6,527.8L1041.1,527.3L1044.3,523.3L1047.5,525.6L1052.4,523.4L1060.6,517.0L1061.6,518.4L1064.7,515.6L1064.0,511.0L1065.5,506.6L1068.6,502.3L1069.3,497.4L1072.3,492.0L1072.8,485.9L1076.7,488.8L1080.1,489.4L1081.8,486.9L1084.3,477.1L1087.1,478.9L1094.2,467.0Z"/>
<path d="M397.8,208.2L390.7,238.7L383.4,271.8L382.6,273.8L383.9,278.6L383.0,283.0L347.3,274.5L344.5,275.5L337.5,274.3L329.4,274.6L324.5,275.9L319.2,275.2L317.3,273.4L306.9,274.4L306.8,272.6L301.7,269.8L296.9,268.9L288.3,270.7L280.2,265.4L281.5,257.8L280.7,254.4L277.9,250.8L276.2,250.6L273.3,250.5L271.2,246.8L268.3,244.9L265.5,245.7L264.4,244.3L262.5,244.0L263.3,240.7L265.3,235.0L266.1,235.8L264.2,241.0L265.1,242.1L266.5,240.4L266.4,237.7L268.9,235.8L267.7,233.6L265.2,232.6L266.0,229.6L266.2,228.1L267.1,229.4L271.1,228.5L268.9,226.5L266.7,225.8L265.6,227.3L266.6,223.2L267.1,218.0L266.6,216.2L267.2,211.4L267.4,206.4L266.3,202.6L265.1,200.9L265.8,196.4L265.5,194.7L267.1,189.4L269.2,190.3L274.1,194.7L278.3,198.4L282.4,199.9L286.5,202.2L291.6,202.1L292.7,204.5L294.6,205.1L294.8,207.7L296.1,205.0L297.7,204.9L297.6,205.9L296.8,207.5L297.2,210.5L298.1,210.5L297.0,212.3L295.4,213.7L293.8,215.9L293.8,212.7L292.2,215.4L290.3,217.0L287.9,218.9L286.0,221.0L285.7,222.2L286.4,222.7L289.2,222.5L291.6,221.6L290.3,221.8L287.5,222.0L287.0,220.8L288.7,219.2L291.4,216.8L293.1,216.5L295.5,214.5L298.5,212.2L299.0,210.5L300.0,211.4L299.7,214.4L299.2,216.1L297.8,216.5L296.9,217.6L295.9,219.4L294.8,219.9L297.1,220.3L297.6,221.5L296.4,224.0L295.0,225.5L295.1,227.1L293.3,227.1L294.6,224.0L292.0,225.4L291.3,229.2L291.2,223.1L288.3,227.0L285.5,225.9L286.5,228.6L286.6,229.6L287.7,230.8L288.8,228.4L290.4,229.7L291.4,230.5L292.9,229.6L293.6,229.3L294.6,227.5L295.5,225.9L297.1,227.7L297.2,226.6L299.4,226.2L299.7,225.0L299.2,223.5L299.5,220.2L300.8,220.0L299.7,218.1L301.6,214.7L304.0,211.7L305.5,211.4L304.8,208.8L304.2,206.8L304.7,204.3L304.0,202.5L303.8,200.1L301.4,198.9L302.7,196.3L304.5,197.4L304.3,195.2L306.0,195.2L306.3,191.3L303.5,191.8L303.7,189.8L303.0,189.1L302.9,187.5L303.2,186.0L303.0,184.3L303.8,184.1ZM301.4,198.9L302.2,199.4L302.5,201.3L300.9,202.1L299.4,203.0L300.6,203.6L301.3,205.7L300.8,208.7L302.4,207.8L303.0,209.1L303.4,210.7L302.3,212.6L301.4,211.5L300.0,210.0L299.6,208.3L300.1,206.6L299.2,204.8L298.5,203.0L298.7,201.0L300.3,199.6ZM302.3,203.3L303.6,203.7L304.1,205.2L303.6,208.7L302.6,207.4L302.1,205.9L301.6,204.5ZM294.0,192.5L294.7,191.4L296.4,191.9L296.6,194.1L296.6,195.9L296.0,196.2L294.5,195.0L293.7,193.5ZM297.2,191.9L298.6,190.4L300.6,190.7L301.5,192.3L300.3,193.6L299.2,192.4L298.7,193.1L297.5,192.7ZM297.4,194.5L298.8,194.4L299.3,195.9L298.8,197.6L297.4,197.4L297.3,196.1ZM302.5,191.0L303.2,191.0L303.6,193.2L302.9,193.2ZM301.5,193.9L302.5,193.9L302.0,195.6L301.2,195.4ZM297.6,221.7L298.4,222.0L298.5,224.6L297.2,226.1L296.2,225.3L296.9,222.9ZM297.8,216.5L299.0,216.9L298.3,219.3L297.3,219.5L297.1,218.2Z"/>
<path d="M1047.3,436.9L1051.1,460.1L1071.1,456.7L1073.2,469.8L1076.5,466.8L1079.6,461.8L1082.2,462.2L1085.3,457.7L1091.3,458.5L1091.6,455.6L1094.7,455.1L1096.1,452.8L1099.8,454.6L1103.1,454.0L1106.7,460.6L1105.5,465.9L1093.9,459.3L1094.2,467.0L1087.1,478.9L1084.3,477.1L1081.8,486.9L1080.1,489.4L1076.7,488.8L1072.8,485.9L1072.3,492.0L1069.3,497.4L1068.6,502.3L1065.5,506.6L1064.0,511.0L1064.7,515.6L1061.6,518.4L1060.6,517.0L1052.4,523.4L1047.5,525.6L1044.3,523.3L1041.1,527.3L1038.6,527.8L1034.9,526.2L1031.5,522.3L1031.5,520.2L1028.9,520.1L1024.6,517.7L1023.2,515.0L1019.6,511.6L1016.5,507.1L1015.9,499.3L1021.0,498.0L1021.3,494.6L1023.4,492.8L1021.9,489.1L1024.6,482.4L1028.1,485.9L1029.7,483.2L1028.8,480.3L1030.5,475.1L1032.7,474.9L1034.4,470.9L1036.7,472.3L1039.0,470.8L1045.2,461.4L1045.5,451.7L1047.1,445.2L1046.5,441.3L1044.7,438.7Z"/>
<path d="M849.6,306.2L853.0,307.5L855.2,311.7L873.7,315.6L881.5,318.8L883.8,317.8L891.6,319.7L893.9,322.7L897.8,325.5L898.0,329.9L896.7,333.6L900.9,333.8L899.6,337.5L902.6,339.9L902.1,343.1L898.7,343.9L896.3,350.0L895.5,354.2L897.7,354.7L900.2,351.8L902.7,346.5L906.3,344.2L908.7,337.6L912.3,335.8L912.3,339.2L910.0,342.5L906.0,353.5L905.1,359.5L905.6,363.7L903.8,365.3L902.6,371.2L903.6,376.0L902.3,379.4L900.8,387.5L901.8,393.8L904.5,399.2L904.5,406.7L886.1,408.2L851.5,410.0L850.0,406.9L843.2,404.3L841.6,400.3L840.7,394.6L842.8,391.4L839.9,389.0L839.5,385.2L838.4,382.3L838.7,378.2L834.9,372.8L831.9,371.9L826.6,367.8L825.5,364.5L819.8,361.9L817.8,359.2L814.0,358.9L809.1,354.5L810.1,345.1L809.5,340.7L811.5,336.8L809.1,333.6L807.0,333.4L807.2,329.8L811.1,324.2L816.1,321.9L817.1,320.3L816.5,305.3L820.0,303.1L821.4,304.1L825.3,304.2L837.3,299.3L841.7,296.7L843.3,298.5L841.1,301.9L847.1,305.9Z"/>
<path d="M516.4,332.8L573.1,339.7L606.4,343.0L602.1,393.9L597.8,445.1L565.9,442.2L524.4,437.3L503.0,434.6L465.2,429.0L469.3,403.6L479.3,340.9L481.3,327.6Z"/>
<path d="M1218.6,838.3L1210.8,837.7L1207.0,839.6L1200.1,838.9L1201.5,832.9L1198.7,828.5L1203.0,824.7L1206.3,825.4L1219.6,825.4L1233.4,826.8L1238.4,828.5L1238.5,832.7L1236.0,833.1L1233.5,837.4L1223.8,839.7ZM1239.7,834.0L1247.0,834.0L1246.5,835.5L1240.4,835.6ZM1245.5,829.2L1247.7,829.2L1247.7,830.7L1245.5,830.7ZM1182.4,834.9L1184.6,834.9L1184.6,836.4L1182.4,836.4Z"/>
<path d="M388.3,701.4L384.9,700.5L379.5,698.7L375.7,700.4L372.1,699.2L366.9,699.5L364.3,698.1L360.3,697.5L357.3,698.0L353.9,698.4L352.7,697.0L352.9,694.8L349.6,694.2L346.3,695.0L344.6,692.7L340.2,690.1L336.8,693.3L333.1,694.6L329.4,696.0L323.4,698.1L319.8,701.3L318.3,705.6L313.6,708.9L308.0,708.5L305.2,712.8L307.8,715.5L311.6,719.3L313.5,725.0L317.8,727.1L320.2,727.7L320.4,732.2L322.3,734.6L319.0,735.0L316.4,735.3L312.5,734.3L312.7,730.0L309.8,730.3L304.5,731.6L298.5,734.1L295.8,735.8L298.0,738.1L301.9,739.7L299.3,741.1L300.5,745.1L303.9,747.4L307.8,747.6L312.6,749.4L313.6,750.7L316.0,748.3L320.5,745.8L318.7,750.4L320.1,751.4L320.9,755.4L319.3,758.6L315.4,758.3L313.1,760.1L310.1,761.5L306.3,759.6L303.5,761.8L302.5,765.3L299.1,770.2L297.0,770.5L296.4,773.3L298.1,776.3L299.4,778.4L298.4,782.0L300.6,785.0L302.7,788.5L304.2,790.5L306.8,790.0L309.6,787.2L312.2,787.5L312.2,791.6L312.2,797.4L309.8,801.2L313.9,800.8L318.2,799.2L320.9,800.6L324.7,804.9L326.6,801.0L326.9,799.3L328.1,802.9L331.4,802.2L333.7,801.4L333.7,802.8L330.9,807.1L329.9,812.9L324.2,817.9L318.5,821.5L315.2,825.7L311.7,825.3L307.4,827.5L302.5,830.0L300.2,832.0L299.4,833.7L303.5,833.8L305.2,833.1L309.1,830.4L310.4,832.4L314.6,831.0L317.4,828.1L319.3,829.9L321.8,827.2L325.8,823.9L330.4,820.5L336.0,815.0L340.4,811.5L343.3,809.3L347.5,805.3L351.0,801.7L348.0,799.5L346.6,796.8L350.2,794.6L353.3,790.0L355.4,787.7L357.5,784.8L357.9,782.7L359.8,781.6L362.1,779.9L364.6,779.7L367.5,777.5L365.1,780.3L369.4,783.4L366.3,782.3L363.0,781.8L359.3,784.6L359.5,786.3L357.9,790.8L357.1,793.3L359.0,794.8L361.4,792.9L357.9,796.4L356.9,798.9L360.3,798.3L361.4,798.3L363.8,795.5L365.9,793.6L367.5,793.3L367.8,789.8L368.5,791.9L372.2,790.8L372.5,786.8L370.6,783.6L373.7,780.4L377.8,781.8L380.3,779.5L381.4,783.2L383.5,784.3L387.0,785.2L389.4,786.6L392.3,788.0L398.7,786.2L402.8,786.2L405.2,786.9L407.7,788.0L408.6,787.8L411.1,784.5L411.5,788.6L417.2,790.9L419.6,791.3L420.8,793.3L422.8,794.5L425.5,795.8L428.0,797.0L430.5,794.5L427.9,790.5L430.6,793.0L431.8,794.1L435.2,795.0L433.3,790.9L430.9,786.6L431.0,784.5L433.7,788.9L434.4,790.5L437.9,793.2L439.4,791.8L440.9,795.1L443.0,796.8L445.6,800.2L444.6,801.6L448.2,802.2L449.8,804.0L451.5,804.4L453.2,806.2L455.6,807.2L455.4,809.7L454.8,811.8L457.5,809.4L460.1,808.0L460.7,811.1L462.6,813.3L463.0,816.0L464.4,817.7L466.1,816.3L466.2,812.0L464.8,806.6L463.8,805.0L461.7,804.7L458.3,804.3L455.4,803.4L454.3,803.9L453.5,802.3L452.2,802.1L452.0,800.4L450.4,800.6L450.6,799.4L449.7,798.4L444.7,794.0L443.8,792.8L442.1,790.7L439.2,788.8L437.1,788.2L435.4,786.2L432.9,785.6L431.9,783.2L429.3,781.7L426.6,784.7L425.9,785.9L426.1,788.6L425.0,788.9L422.8,791.8L421.4,789.1L415.8,785.6L415.1,784.4L412.7,783.3L412.6,780.9L410.1,781.6L409.0,783.2L406.7,783.4L404.5,783.1ZM351.1,809.6L353.0,809.9L353.5,811.5L354.1,810.0L355.3,810.6L354.9,811.8L356.4,812.6L354.2,814.2L352.3,813.8L354.3,815.1L352.8,816.5L350.9,815.6L351.9,817.4L350.0,818.3L348.5,817.4L348.7,819.7L348.0,820.5L347.0,817.4L346.3,819.7L345.1,818.3L344.6,815.6L343.7,815.8L345.4,813.2L347.5,815.6L347.1,812.9L348.7,815.2L348.0,812.0L349.9,813.4L349.9,809.8ZM353.6,804.8L354.5,806.6L355.9,806.6L355.1,808.8L353.6,807.5L352.2,809.1L351.7,807.1L350.3,808.0L351.3,805.3L352.7,806.6ZM354.0,803.7L355.2,803.9L354.7,804.6ZM350.6,808.6L352.0,809.5L351.3,808.3ZM350.9,816.5L352.4,816.9L351.4,817.8ZM344.1,822.3L345.3,822.8L344.6,823.7ZM288.5,783.6L291.6,782.6L294.6,783.0L296.6,784.7L295.6,787.7L293.2,788.4L289.6,785.9ZM278.5,748.3L283.4,750.3L285.9,753.7L289.2,755.4L287.7,756.4L284.5,757.5L282.3,753.1L277.6,752.2ZM266.0,774.8L268.0,777.3L266.7,777.2ZM269.2,806.6L270.3,807.1L269.5,807.6ZM271.0,812.8L272.2,813.1L271.6,813.5ZM291.4,835.1L294.4,832.7L298.6,832.4L299.7,835.1L296.5,836.0L292.6,837.2ZM285.0,838.1L286.7,838.0L285.9,839.2ZM274.3,843.3L279.5,838.9L283.2,839.1L283.0,841.8L279.2,843.4L275.2,844.4ZM267.0,846.2L272.0,841.4L274.3,841.9L271.3,844.5L268.0,846.9ZM261.4,844.4L263.6,844.5L262.2,845.5ZM254.2,846.3L255.3,846.4L254.5,847.1ZM247.0,845.6L248.6,845.8L247.6,846.6ZM239.5,845.7L244.3,847.0L241.9,847.2ZM232.9,844.6L238.0,843.0L239.1,845.1L235.5,845.4ZM222.2,844.2L225.0,842.1L226.7,843.9L224.5,845.3ZM218.9,842.5L222.0,841.5L221.7,843.0ZM216.0,840.9L218.7,840.0L218.4,842.3ZM199.0,835.4L202.3,839.0L202.5,839.3L199.9,837.5ZM193.2,829.4L196.0,829.2L194.8,831.1ZM204.9,834.3L206.2,834.6L205.1,835.1ZM173.8,810.1L176.8,810.7L178.1,812.9L175.3,812.4ZM176.7,816.2L178.2,817.3L177.1,817.7ZM180.5,815.4L181.5,815.9L180.8,816.0ZM428.9,797.7L432.2,795.4L435.8,796.2L436.8,798.7L434.7,800.7L433.4,802.5L430.7,800.5ZM434.7,802.6L437.4,801.3L439.9,804.8L442.2,810.7L439.5,808.6L436.6,805.8ZM436.6,795.5L438.7,794.4L442.0,798.5L442.4,803.1L440.1,803.8L438.3,799.6ZM443.5,803.2L447.8,802.3L449.1,804.7L447.3,807.2L444.4,806.2ZM441.3,804.4L443.3,804.2L445.2,808.8L445.3,812.5L442.6,808.7ZM446.7,808.8L449.9,809.8L452.6,811.0L454.6,812.8L456.4,814.9L457.7,816.2L459.0,819.4L457.5,820.6L455.8,821.5L452.7,819.9L451.5,817.8L450.3,817.3L450.8,814.6L448.9,812.5L447.7,812.5L446.5,809.2ZM456.3,809.8L459.2,808.3L461.7,811.7L461.4,814.7L459.0,814.6L457.3,812.8ZM450.4,808.1L452.4,806.9L454.8,809.4L453.1,810.5ZM448.5,804.5L450.3,803.8L453.2,806.2L451.2,806.4ZM452.1,806.1L453.9,805.9L454.8,808.0L453.3,808.0ZM449.1,807.1L450.5,806.9L450.8,808.4L449.8,808.5ZM459.3,814.7L460.7,815.1L461.1,816.6L459.8,816.8ZM457.8,813.9L459.0,814.6L459.0,816.2L458.4,815.8ZM461.1,816.9L462.2,816.8L461.9,817.5ZM446.2,811.3L447.8,810.3L448.1,812.1L446.9,812.5ZM447.4,813.3L449.2,813.2L448.7,814.2ZM448.1,815.6L449.2,815.5L449.3,816.9ZM450.3,817.3L451.3,817.2L451.3,818.1ZM428.6,798.2L429.6,798.4L429.5,799.8ZM433.6,803.8L435.1,803.9L435.1,805.7L434.3,805.5ZM436.5,793.5L437.9,793.4L437.9,794.2L437.0,794.3ZM434.6,791.9L435.1,792.2L435.1,792.9ZM431.7,794.4L432.6,794.2L432.2,794.7ZM444.0,813.4L445.0,813.3L444.8,814.1ZM451.1,821.7L451.4,821.8L451.4,822.1ZM451.3,818.1L453.2,818.9L455.6,821.4L453.2,820.8ZM374.8,792.0L377.5,787.2L378.4,788.0L376.1,791.8ZM378.8,787.1L381.7,785.4L381.4,786.8ZM374.5,788.8L375.5,785.6L375.4,788.8ZM381.1,784.6L382.8,784.1L382.5,785.0ZM375.8,783.8L376.7,783.7L376.3,784.6ZM372.8,782.2L373.9,782.6L373.3,783.3ZM373.0,786.7L373.9,787.1L373.5,788.0ZM374.1,789.3L375.0,789.7L374.4,790.7ZM376.1,787.3L376.8,787.3L376.7,788.2ZM373.8,783.8L374.3,783.7L374.1,784.4ZM378.2,781.9L379.1,782.1L378.7,782.6ZM389.4,789.8L390.5,788.3L390.3,789.7ZM339.0,828.5L340.0,828.1L339.5,829.1ZM315.6,832.0L317.5,833.1L315.9,834.3ZM301.4,838.0L303.5,838.3L302.4,838.8ZM345.6,822.3L348.0,822.3L346.8,823.2ZM333.6,826.1L334.6,826.1L334.1,827.0Z"/>
<path d="M1117.8,820.3L1116.7,823.1L1114.0,828.6L1111.6,832.8L1110.5,833.3L1112.3,829.4L1115.0,824.4L1116.5,820.5ZM1110.2,834.1L1106.0,837.8L1105.5,837.4L1109.6,833.7ZM1103.6,839.2L1099.5,841.7L1099.4,841.2L1103.3,838.8ZM1096.0,842.2L1092.1,844.4L1084.3,848.1L1084.2,847.3L1090.7,843.3L1095.2,841.6ZM1075.8,848.3L1077.2,848.1L1076.6,849.0ZM1058.4,849.3L1059.5,849.1L1059.2,850.0ZM244.0,565.3L247.1,565.6L246.4,566.7ZM247.6,567.8L252.0,567.6L253.1,570.1L249.8,570.5ZM254.9,567.3L258.3,568.5L262.6,570.3L260.9,571.2L255.7,570.2ZM264.1,571.3L266.2,571.5L265.0,571.8ZM256.8,588.8L259.6,590.8L258.5,591.0ZM268.8,586.2L269.6,586.4L269.1,587.1ZM278.2,588.8L280.0,590.5L283.1,593.9L282.7,594.4L280.0,592.4L278.0,589.5ZM275.5,600.0L276.8,603.8L279.2,606.4L277.6,605.0L275.6,601.4ZM919.8,721.3L925.5,720.8L925.6,721.3L919.8,721.8ZM926.6,721.1L932.8,720.3L932.8,720.9L926.7,721.6ZM905.8,722.9L908.0,723.2L905.8,723.4ZM910.8,722.0L915.3,722.4L910.9,722.8ZM916.4,722.6L918.6,722.7L916.4,723.1ZM909.7,727.2L909.6,732.4L908.7,737.5L907.7,740.2L908.2,740.1L909.3,737.5L910.3,732.3L910.1,727.2ZM839.0,743.4L843.4,742.7L846.4,743.8L843.6,745.7L840.2,744.9ZM843.2,295.6L846.5,293.3L848.4,295.3L845.8,296.7ZM842.9,299.9L845.6,298.0L846.0,299.2L843.5,301.1ZM936.4,319.8L938.3,320.9L938.6,323.9L936.8,323.6ZM929.1,336.0L931.2,335.2L932.0,337.7L929.6,337.7ZM952.4,314.6L954.0,314.4L953.8,316.0ZM965.5,308.6L972.3,305.9L973.5,308.9L969.4,311.2ZM999.3,416.5L1000.7,416.8L1000.5,418.1ZM913.2,330.6L915.9,330.4L915.2,332.2ZM1246.0,292.6L1247.6,290.6L1250.4,292.1L1249.9,294.9L1247.3,295.7ZM1241.7,297.4L1243.7,296.3L1244.9,299.1L1242.8,299.7ZM1239.5,301.5L1241.2,300.7L1242.2,303.1L1240.5,303.6ZM1244.2,301.4L1245.5,301.1L1245.6,302.9ZM1237.3,297.3L1237.6,295.1L1239.1,298.2ZM1246.3,298.7L1247.9,297.7L1248.0,299.5ZM1266.7,272.4L1267.7,272.6L1267.6,274.2ZM1202.3,387.6L1204.1,386.9L1203.3,387.9Z"/>
</g>
<g class="wt">
<path d="M317.7,727.8L319.8,727.6L320.5,730.8L319.3,732.5L318.8,730.2L317.9,729.2ZM322.7,731.1L325.1,731.3L325.4,732.7L323.2,732.5Z"/>
<path d="M723.7,834.7L721.4,828.4L718.8,820.7L717.8,811.9L716.7,804.2L714.5,802.9L718.4,802.2L721.2,795.4L723.2,794.9L721.8,803.0L720.7,813.2L721.5,822.1L723.5,828.4L724.4,834.0ZM719.7,789.3L723.1,788.3L726.5,789.6L725.3,792.9L722.6,793.4L720.3,791.8ZM727.6,787.4L728.8,784.1L725.7,782.8L728.8,780.8L731.6,780.3L732.9,781.6L729.9,785.9ZM733.0,775.7L735.7,774.7L738.3,777.8L735.6,780.3L733.4,779.0ZM737.5,768.1L740.2,770.2L743.6,767.6L751.4,768.2L752.1,769.7L746.9,772.5L742.4,774.8L739.0,774.0L737.9,771.4ZM752.5,768.2L760.4,765.1L759.9,765.8L752.5,768.9ZM874.4,728.3L876.7,723.1L881.0,721.3L886.6,723.2L889.0,725.4L884.8,729.5L879.3,729.8ZM870.2,724.2L872.3,723.3L872.9,725.3L870.9,726.0Z"/>
</g>
<g class="bb">
<g opacity="0.5"><circle cx="237.7" cy="475.5" r="23" fill="#fc9a2e" fill-opacity="0.35"/><circle cx="237.7" cy="475.5" r="20.6" fill="#fc9a2e" fill-opacity="0.6"/><circle cx="237.7" cy="475.5" r="18" fill="#fc9a2e"/></g>
<g opacity="1"><circle cx="228.8" cy="460.6" r="23" fill="#fc9a2e" fill-opacity="0.35"/><circle cx="228.8" cy="460.6" r="20.6" fill="#fc9a2e" fill-opacity="0.6"/><circle cx="228.8" cy="460.6" r="18" fill="#fc9a2e"/></g>
<g opacity="1"><circle cx="236.6" cy="494.6" r="22.5" fill="#fde9b2" fill-opacity="0.35"/><circle cx="236.6" cy="494.6" r="20.1" fill="#fde9b2" fill-opacity="0.6"/><circle cx="236.6" cy="494.6" r="17.5" fill="#fde9b2"/></g>
<g opacity="1"><circle cx="249.2" cy="533.1" r="23.5" fill="#fef3cc" fill-opacity="0.35"/><circle cx="249.2" cy="533.1" r="21.1" fill="#fef3cc" fill-opacity="0.6"/><circle cx="249.2" cy="533.1" r="18.5" fill="#fef3cc"/></g>
<g opacity="1"><circle cx="295.4" cy="583.6" r="23.5" fill="#fc9a2e" fill-opacity="0.35"/><circle cx="295.4" cy="583.6" r="21.1" fill="#fc9a2e" fill-opacity="0.6"/><circle cx="295.4" cy="583.6" r="18.5" fill="#fc9a2e"/></g>
<g opacity="1"><circle cx="281.2" cy="570.8" r="23.5" fill="#feefc0" fill-opacity="0.35"/><circle cx="281.2" cy="570.8" r="21.1" fill="#feefc0" fill-opacity="0.6"/><circle cx="281.2" cy="570.8" r="18.5" fill="#feefc0"/></g>
<g opacity="1"><circle cx="302.4" cy="616.6" r="23" fill="#fde9b2" fill-opacity="0.35"/><circle cx="302.4" cy="616.6" r="20.6" fill="#fde9b2" fill-opacity="0.6"/><circle cx="302.4" cy="616.6" r="18" fill="#fde9b2"/></g>
<g opacity="1"><circle cx="526.6" cy="785.3" r="22.5" fill="#fcd788" fill-opacity="0.35"/><circle cx="526.6" cy="785.3" r="20.1" fill="#fcd788" fill-opacity="0.6"/><circle cx="526.6" cy="785.3" r="17.5" fill="#fcd788"/></g>
<g opacity="1"><circle cx="1182.5" cy="393.2" r="23.5" fill="#fffae3" fill-opacity="0.35"/><circle cx="1182.5" cy="393.2" r="21.1" fill="#fffae3" fill-opacity="0.6"/><circle cx="1182.5" cy="393.2" r="18.5" fill="#fffae3"/></g>
</g>
<g class="lb">
<text class="h" x="239.6" y="481.6" textLength="85" lengthAdjust="spacingAndGlyphs">San Jose</text><text x="239.6" y="481.6" textLength="85" lengthAdjust="spacingAndGlyphs">San Jose</text>
<text class="h" x="248.6" y="537.4" textLength="149.5" lengthAdjust="spacingAndGlyphs">San Luis Obispo</text><text x="248.6" y="537.4" textLength="149.5" lengthAdjust="spacingAndGlyphs">San Luis Obispo</text>
<text class="h" x="290.0" y="580.5" textLength="113.5" lengthAdjust="spacingAndGlyphs">Los Angeles</text><text x="290.0" y="580.5" textLength="113.5" lengthAdjust="spacingAndGlyphs">Los Angeles</text>
<text class="h" x="304.5" y="619.2" textLength="92.5" lengthAdjust="spacingAndGlyphs">San Diego</text><text x="304.5" y="619.2" textLength="92.5" lengthAdjust="spacingAndGlyphs">San Diego</text>
<text class="h" x="529.3" y="790.2" textLength="83.3" lengthAdjust="spacingAndGlyphs">Honolulu</text><text x="529.3" y="790.2" textLength="83.3" lengthAdjust="spacingAndGlyphs">Honolulu</text>
<text class="h" x="1183.2" y="399.5" textLength="97" lengthAdjust="spacingAndGlyphs">Bridgeport</text><text x="1183.2" y="399.5" textLength="97" lengthAdjust="spacingAndGlyphs">Bridgeport</text>
</g>
<g class="ic">
<rect x="1349.8" y="109.2" width="54.9" height="160.5" rx="8" ry="8" fill="#fff" stroke="#e2e2e2" stroke-width="2.2"/>
<path d="M1349.8 163.4h54.9M1349.8 216.1h54.9" stroke="#e2e2e2" stroke-width="1.6" fill="none"/>
<path d="M1377.500 129.200v15.600M1369.700 137h15.600" stroke="#2b2b2b" stroke-width="5" stroke-linecap="round" fill="none"/>
<path d="M1369.500 190.400h16" stroke="#2b2b2b" stroke-width="5" stroke-linecap="round" fill="none"/>
<path d="M1377.100 227.600l7.100 14.800h-14.200z" fill="#2b2b2b"/>
<path d="M1377.100 259.600l7.100 -16.300h-14.200z" fill="#c6c6c6"/>
</g>
<g class="logo" transform="translate(1250 960) scale(0.125)" fill="#0e0e0f">
<!-- THE -->
<path d="M55 70h82v25h-28v60h-27v-60h-27zM145 70h26v31h20v-31h26v85h-26v-31h-20v31h-26zM226 70h75v23h-49v9h42v21h-42v9h50v23h-76z"/>
<!-- z -->
<path d="M57 213h86l-86 93zM176 213h126l-114 245h-131zM302 376v82h-88z"/>
<!-- e -->
<path d="M437 208c-66 0-118 56-118 130c0 74 52 128 121 128c55 0 96-28 116-76l-20-12c-14 20-32 30-54 30c-30 0-44-24-44-62v-46h118c-12-54-58-92-119-92z"/>
<path d="M430 300l52-84" stroke="#fff" stroke-width="13" fill="none"/>
<!-- b -->
<path d="M563 100l124-26v384l-48 8l-52-8l-4-20v-316z"/>
<path d="M703 226c18-10 38-16 59-16c62 0 104 50 104 126c0 78-46 130-110 130c-8 0-14-1-20-3c26-22 35-64 35-127c0-60-18-102-68-110z"/>
<!-- r -->
<path d="M884 236l126-24v226l12 4v16h-140v-16l14-4v-190l-12-2z"/>
<circle cx="1066" cy="251" r="43"/>
<!-- a -->
<circle cx="1165" cy="286" r="29"/>
<path d="M1184 226c24-12 48-18 74-18c52 0 82 24 82 72v138c0 10 6 14 14 14c6 0 12-2 20-8l6 14c-14 18-34 28-60 28c-34 0-56-14-64-40h-16v-156c0-24-10-38-30-38c-10 0-18 2-26 6z"/>
<path d="M1232 330v92c-10 14-22 22-36 22c-16 0-26-12-26-30c0-30 22-58 62-84zM1236 344v98c-16 18-38 28-62 28c-34 0-58-22-58-54c0-46 44-72 120-72z" fill-rule="nonzero"/>
</g>
<g class="tt"><text x="17.80" y="57.4" font-family="Liberation Sans, sans-serif" font-weight="700" font-size="40.2" fill="#121212" stroke="#121212" stroke-width="0.3" textLength="94.60" lengthAdjust="spacingAndGlyphs">Most</text>
<text x="122.80" y="57.4" font-family="Liberation Sans, sans-serif" font-weight="700" font-size="40.2" fill="#121212" stroke="#121212" stroke-width="0.3" textLength="183.40" lengthAdjust="spacingAndGlyphs">Expensive</text>
<text x="317.20" y="57.4" font-family="Liberation Sans, sans-serif" font-weight="700" font-size="40.2" fill="#121212" stroke="#121212" stroke-width="0.3" textLength="150.80" lengthAdjust="spacingAndGlyphs">Housing</text>
<text x="480.40" y="57.4" font-family="Liberation Sans, sans-serif" font-weight="700" font-size="40.2" fill="#121212" stroke="#121212" stroke-width="0.3" textLength="148.60" lengthAdjust="spacingAndGlyphs">Markets</text>
<text x="640.00" y="57.4" font-family="Liberation Sans, sans-serif" font-weight="700" font-size="40.2" fill="#121212" stroke="#121212" stroke-width="0.3" textLength="34.00" lengthAdjust="spacingAndGlyphs">in</text>
<text x="685.60" y="57.4" font-family="Liberation Sans, sans-serif" font-weight="700" font-size="40.2" fill="#121212" stroke="#121212" stroke-width="0.3" textLength="56.80" lengthAdjust="spacingAndGlyphs">the</text>
<text x="751.80" y="57.4" font-family="Liberation Sans, sans-serif" font-weight="700" font-size="40.2" fill="#121212" stroke="#121212" stroke-width="0.3" textLength="74.80" lengthAdjust="spacingAndGlyphs">U.S.</text><text x="17.80" y="1004.8" font-family="Liberation Sans, sans-serif" font-weight="400" font-size="24.6" fill="#1f1f1f" stroke="#1f1f1f" stroke-width="0.45" textLength="87.80" lengthAdjust="spacingAndGlyphs">Source:</text>
<text x="109.40" y="1004.8" font-family="Liberation Sans, sans-serif" font-weight="400" font-size="24.6" fill="#1f1f1f" stroke="#1f1f1f" stroke-width="0.45" textLength="52.80" lengthAdjust="spacingAndGlyphs">NAR</text></g>
</svg>
</body></html>
